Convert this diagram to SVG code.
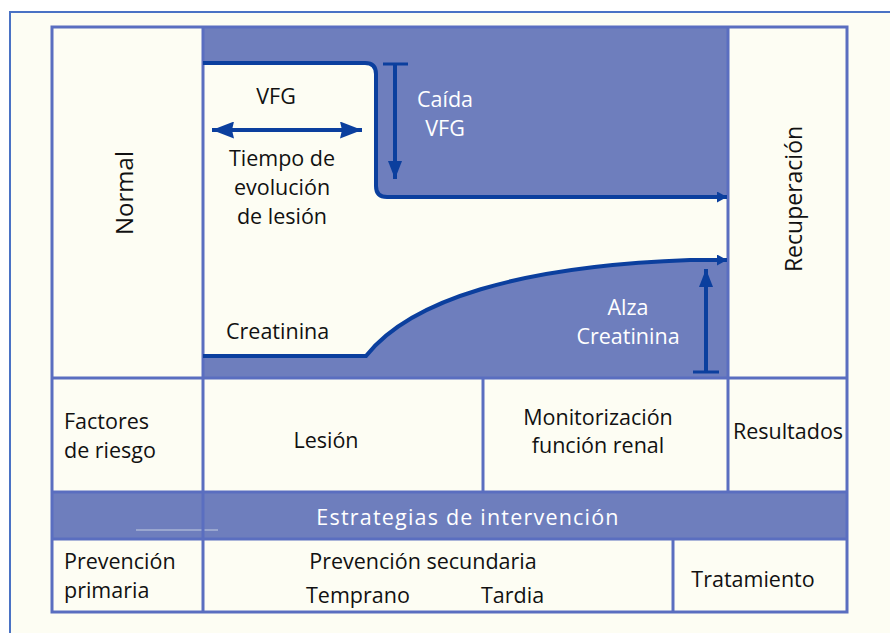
<svg xmlns="http://www.w3.org/2000/svg" width="890" height="633" viewBox="0 0 890 633">
<defs>
<style>
.t{font-family:"Open Sans","Noto Sans","DejaVu Sans",sans-serif;font-size:21.5px;fill:#111}
.w{fill:#fff}
.c{text-anchor:middle}
.grid{fill:none;stroke:#5a6ec0;stroke-width:3}
.dk{fill:none;stroke:#0b3f9e;stroke-width:4}
</style>
<marker id="big" viewBox="0 0 22 17" refX="22" refY="8.5" markerWidth="22" markerHeight="17" orient="auto-start-reverse" markerUnits="userSpaceOnUse">
<path d="M0,0 L22,8.5 L0,17 L2,8.5 Z" fill="#0b3f9e"/>
</marker>
<marker id="mid" viewBox="0 0 18 14" refX="18" refY="7" markerWidth="18" markerHeight="14" orient="auto" markerUnits="userSpaceOnUse">
<path d="M0,0 L18,7 L0,14 Z" fill="#0b3f9e"/>
</marker>
<marker id="sm" viewBox="0 0 10 11" refX="10" refY="5.5" markerWidth="10" markerHeight="11" orient="auto" markerUnits="userSpaceOnUse">
<path d="M0,0 L10,5.5 L0,11 Z" fill="#0b3f9e"/>
</marker>
</defs>
<rect width="890" height="633" fill="#ffffff"/>
<rect x="10" y="12" width="900" height="640" fill="#fdfdf3" stroke="#4a72c4" stroke-width="2"/>

<g id="graph">
<rect x="203" y="27" width="525" height="351" fill="#6e7ebd"/>
<path d="M203,63 L365,63 Q376,63 376,74 L376,186 Q376,197 387,197 L728,197 L728,260 L690,260 C520,266 410,300 366,356 L203,356 Z" fill="#fdfdf3"/>
</g>

<g id="band">
<rect x="52" y="492" width="795" height="47" fill="#6e7ebd"/>
<line x1="136" y1="530" x2="218" y2="530" stroke="#a9b4d6" stroke-width="1.5"/>
</g>

<g id="grid" class="grid">
<rect x="52" y="27" width="795" height="585"/>
<line x1="203" y1="27" x2="203" y2="612"/>
<line x1="728" y1="27" x2="728" y2="492"/>
<line x1="52" y1="378" x2="847" y2="378"/>
<line x1="52" y1="492" x2="847" y2="492"/>
<line x1="52" y1="539" x2="847" y2="539"/>
<line x1="483" y1="378" x2="483" y2="492"/>
<line x1="673" y1="539" x2="673" y2="612"/>
</g>

<g id="connectors">
<path class="dk" d="M203,63 L365,63 Q376,63 376,74 L376,186 Q376,197 387,197 L727,197" marker-end="url(#sm)"/>
<path class="dk" stroke-width="3.5" d="M203,356 L366,356 C410,300 520,266 690,260 L727,260" marker-end="url(#sm)"/>
<line class="dk" x1="212" y1="130" x2="362" y2="130" stroke-width="5" marker-start="url(#big)" marker-end="url(#big)"/>
<line class="dk" x1="395" y1="64" x2="395" y2="179" stroke-width="4" marker-end="url(#mid)"/>
<line x1="383" y1="64" x2="408" y2="64" stroke="#0b3f9e" stroke-width="3"/>
<line class="dk" x1="706" y1="372" x2="706" y2="269" stroke-width="4" marker-end="url(#mid)"/>
<line x1="693" y1="372" x2="719" y2="372" stroke="#0b3f9e" stroke-width="3"/>
</g>

<g id="normal"><text class="t c" style="font-size:24px" transform="translate(133,193) rotate(-90)">Normal</text></g>
<g id="recuperacion"><text class="t c" style="font-size:23px" transform="translate(802,199) rotate(-90)">Recuperación</text></g>
<g id="vfg"><text class="t c" x="276" y="104">VFG</text></g>
<g id="tiempo">
<text class="t c" x="282" y="166">Tiempo de</text>
<text class="t c" x="282" y="195">evolución</text>
<text class="t c" x="282" y="224">de lesión</text>
</g>
<g id="caida">
<text class="t c w" x="445" y="107">Caída</text>
<text class="t c w" x="445" y="136">VFG</text>
</g>
<g id="alza">
<text class="t c w" x="628" y="315">Alza</text>
<text class="t c w" x="628" y="344">Creatinina</text>
</g>
<g id="creatinina"><text class="t" x="226" y="339">Creatinina</text></g>
<g id="factores">
<text class="t" x="64" y="429">Factores</text>
<text class="t" x="64" y="458">de riesgo</text>
</g>
<g id="lesion"><text class="t c" x="326" y="448">Lesión</text></g>
<g id="monitorizacion">
<text class="t c" x="598" y="425">Monitorización</text>
<text class="t c" x="598" y="453">función renal</text>
</g>
<g id="resultados"><text class="t c" x="788" y="439">Resultados</text></g>
<g id="estrategias"><text class="t c w" style="letter-spacing:1.2px" x="468" y="525">Estrategias de intervención</text></g>
<g id="prevprimaria">
<text class="t" x="64" y="569">Prevención</text>
<text class="t" x="64" y="598">primaria</text>
</g>
<g id="prevsecundaria">
<text class="t c" x="423" y="569">Prevención secundaria</text>
<text class="t" x="306" y="603">Temprano</text>
<text class="t" x="481" y="603">Tardia</text>
</g>
<g id="tratamiento"><text class="t c" x="753" y="587">Tratamiento</text></g>
</svg>
